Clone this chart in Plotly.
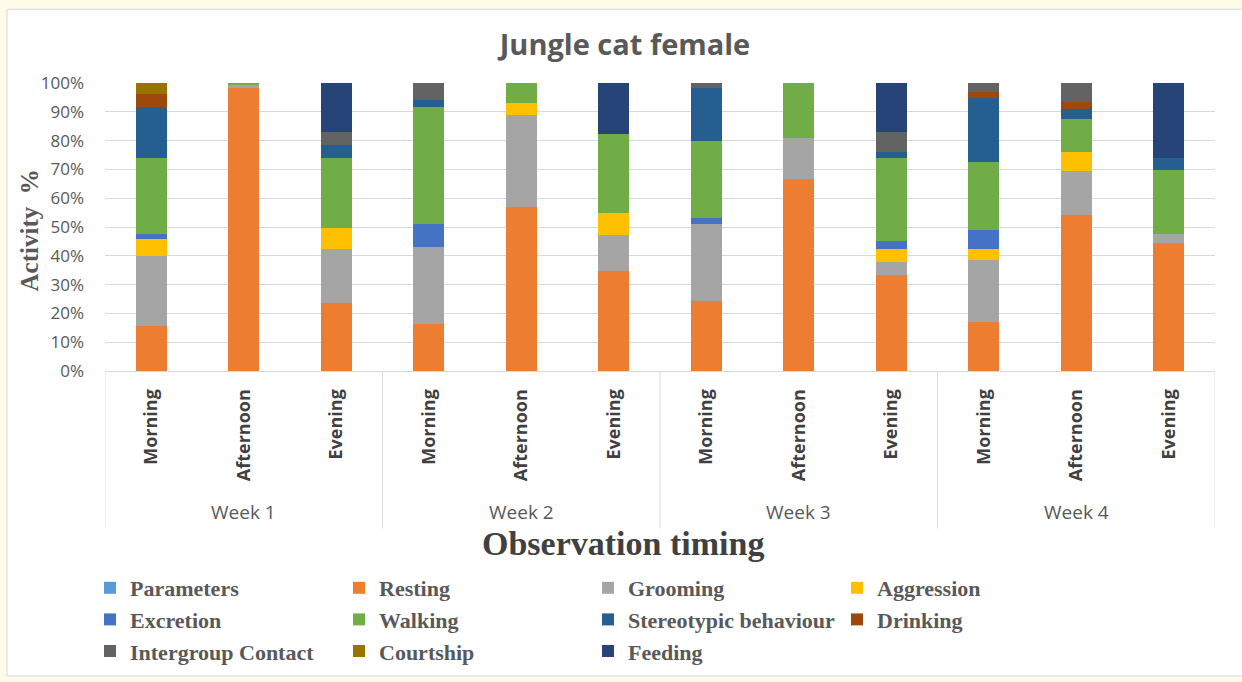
import plotly.graph_objects as go

# Observation slots
week_names = ["Week 1", "Week 2", "Week 3", "Week 4"]
timing_names = ["Morning", "Afternoon", "Evening"]
slots = [f"{w} {t}" for w in week_names for t in timing_names]
slot_labels = [t for w in week_names for t in timing_names]

# Share of time (%) spent on each activity per slot
parameters  = [0, 0, 0,   0, 0, 0,   0, 0, 0,   0, 0, 0]
resting     = [15.8, 98.2, 23.7,  16.4, 57.0, 34.8,  24.3, 66.8, 33.4,  17.0, 54.2, 44.5]
grooming    = [24.1, 1.0, 18.8,   26.7, 31.9, 12.4,  26.7, 14.2, 4.4,   21.6, 15.2, 3.2]
aggression  = [6.0, 0, 7.3,       0, 4.0, 7.7,       0, 0, 4.6,         3.8, 6.6, 0]
excretion   = [1.8, 0, 0,         7.9, 0, 0,         2.1, 0, 2.7,       6.6, 0, 0]
walking     = [26.3, 0.8, 24.2,   40.6, 7.1, 27.5,   26.8, 19.0, 28.8,  23.6, 11.6, 22.2]
stereotypic = [17.7, 0, 4.5,      2.6, 0, 0,         18.3, 0, 2.1,      22.3, 3.3, 4.0]
drinking    = [4.5, 0, 0,         0, 0, 0,           0, 0, 0,           2.0, 2.6, 0]
intergroup  = [0, 0, 4.5,         5.8, 0, 0,         1.8, 0, 7.0,       3.1, 6.5, 0]
courtship   = [3.8, 0, 0,         0, 0, 0,           0, 0, 0,           0, 0, 0]
feeding     = [0, 0, 17.0,        0, 0, 17.6,        0, 0, 17.0,        0, 0, 26.1]

series = [
    ("Parameters", parameters, "#5B9BD5"),
    ("Resting", resting, "#ED7D31"),
    ("Grooming", grooming, "#A5A5A5"),
    ("Aggression", aggression, "#FFC000"),
    ("Excretion", excretion, "#4472C4"),
    ("Walking", walking, "#70AD47"),
    ("Stereotypic behaviour", stereotypic, "#255E91"),
    ("Drinking", drinking, "#9E480E"),
    ("Intergroup Contact", intergroup, "#636363"),
    ("Courtship", courtship, "#997300"),
    ("Feeding", feeding, "#264478"),
]

W, H = 1242, 682
ML, MR, MT, MB = 105, 27, 83, 310
PW, PH = W - ML - MR, H - MT - MB
GRID = "#D9D9D9"


def px_x(x):
    return (x - ML) / PW


def px_y(y):
    return (H - MB - y) / PH


fig = go.Figure()
for name, vals, color in series:
    fig.add_trace(go.Bar(
        x=slots,
        y=[v / 100 for v in vals],
        name=name,
        marker=dict(color=color, line=dict(width=0)),
    ))

# Week group labels and the divider lines of the category box
n_per_week = len(timing_names)
shapes = [
    dict(type="rect", xref="paper", yref="paper",
         x0=px_x(7), x1=px_x(W + 5), y0=px_y(678), y1=px_y(9),
         fillcolor="white", line=dict(color=GRID, width=1), layer="below"),
]
annotations = []
for i, wk in enumerate(week_names):
    annotations.append(dict(
        text=wk, xref="x", yref="paper",
        x=slots[i * n_per_week + 1], y=px_y(513), yanchor="middle",
        showarrow=False,
        font=dict(family="Open Sans", size=19, color="#595959"),
    ))
for i in range(len(week_names) + 1):
    xb = i * n_per_week - 0.5
    shapes.append(dict(type="line", xref="x", yref="paper",
                       x0=xb, x1=xb, y0=0, y1=px_y(530),
                       line=dict(color=GRID, width=1)))

annotations += [
    dict(text="<b>Observation timing</b>", xref="paper", yref="paper",
         x=px_x(623), y=px_y(545), showarrow=False, yanchor="middle",
         font=dict(family="Liberation Serif", size=34, color="#404040")),
    dict(text="<b>Activity  %</b>", xref="paper", yref="paper",
         x=px_x(29), y=px_y(231), xanchor="center", yanchor="middle",
         showarrow=False, textangle=-90,
         font=dict(family="Liberation Serif", size=25, color="#595959")),
]

fig.update_layout(
    width=W, height=H,
    barmode="stack",
    bargap=0.67,
    margin=dict(l=ML, r=MR, t=MT, b=MB),
    paper_bgcolor="#FEFCE8",
    plot_bgcolor="white",
    showlegend=True,
    title=dict(
        text="Jungle cat female",
        x=px_x(625), xref="paper", xanchor="center",
        y=1 - 45 / H, yanchor="middle",
        font=dict(family="Open Sans", size=29, color="#595959", weight="bold"),
    ),
    legend=dict(
        orientation="h",
        x=px_x(90), xanchor="left",
        y=px_y(567), yanchor="top",
        entrywidth=204, entrywidthmode="pixels",
        font=dict(family="Liberation Serif", size=22, color="#595959", weight="bold"),
        bgcolor="rgba(0,0,0,0)",
        traceorder="normal",
        itemclick=False,
    ),
    shapes=shapes,
    annotations=annotations,
)

fig.update_yaxes(
    range=[0, 1], tickformat=".0%", dtick=0.1,
    showgrid=True, gridcolor=GRID, gridwidth=1,
    zeroline=False, showline=False, ticks="",
    tickfont=dict(family="Open Sans", size=17, color="#595959"),
    ticklabelstandoff=20,
)
fig.update_xaxes(
    type="category",
    tickvals=slots, ticktext=slot_labels,
    range=[-0.5, len(slots) - 0.5],
    showline=True, linecolor=GRID, linewidth=1,
    tickangle=-90,
    ticks="",
    ticklabelstandoff=10,
    tickfont=dict(family="Open Sans", size=18, color="#404040", weight="bold"),
    showgrid=False,
)

fig.write_html("out.html")
